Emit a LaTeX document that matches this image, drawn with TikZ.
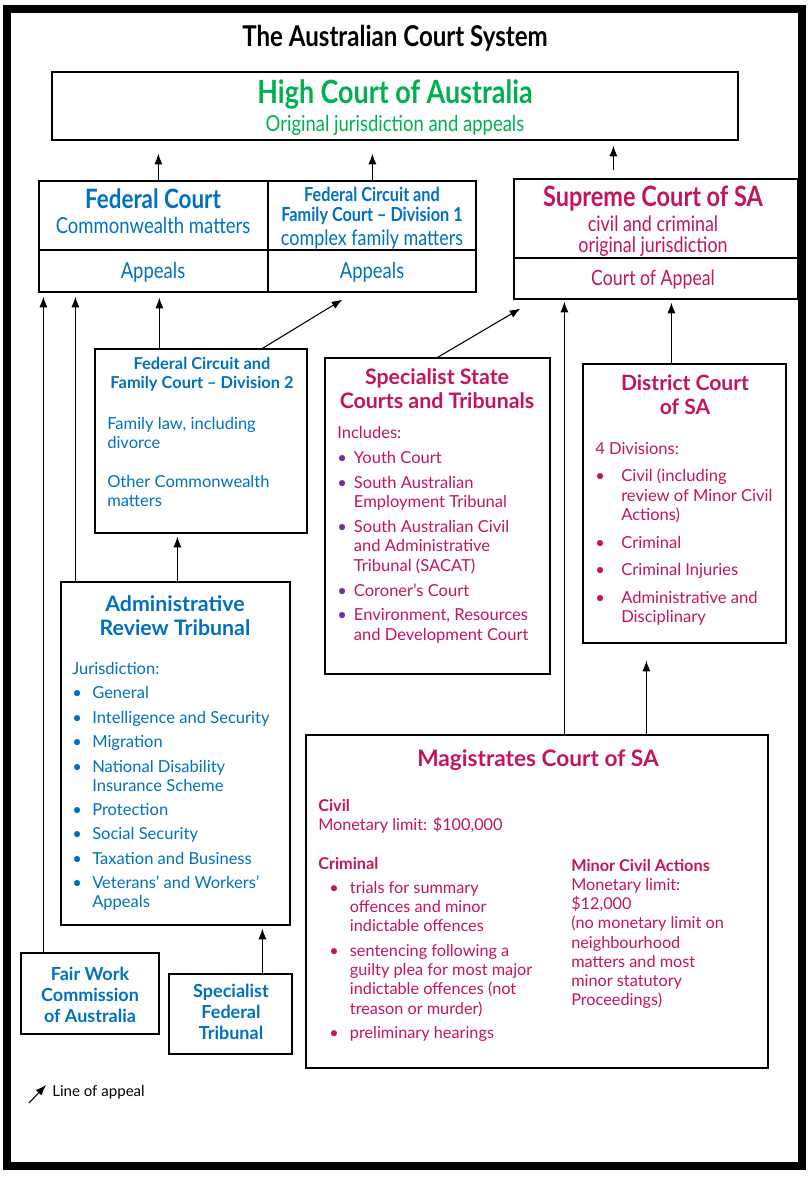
\documentclass[tikz,border=0pt]{standalone}
\usepackage{fontspec}
\setmainfont{Lato}
\newfontfamily\condfont[FakeStretch=0.84,Ligatures=TeX]{Lato}
\usetikzlibrary{fit,calc,arrows.meta}

\definecolor{fedblue}{RGB}{0,112,192}
\definecolor{sared}{RGB}{195,20,95}
\definecolor{hcgreen}{RGB}{0,176,80}
\definecolor{bulpurple}{RGB}{112,48,160}

\newcommand{\fs}[2]{\fontsize{#1}{#2}\selectfont}
\newcommand{\bl}[2]{\makebox[#1][l]{\textcolor{#2}{\textbullet}}}
\newcommand{\ind}[1]{\hspace*{#1}}

\tikzset{
	box/.style={draw, line width=0.9pt, inner sep=0pt},
	appeal/.style={-{Latex[length=8pt,width=6pt]}, line width=0.8pt},
	txt/.style={inner sep=0pt},
	lefttxt/.style={inner sep=0pt, anchor=north west, align=left},
	midtxt/.style={inner sep=0pt, align=center},
}

\begin{document}
\begin{tikzpicture}[x=0.75pt, y=-0.75pt]
	\useasboundingbox (0,0) rectangle (811,1177);
	% frame
	\draw[line width=5.5pt] (7,9) rectangle (802,1166);
	\node[txt, font=\condfont\bfseries\fs{21.5}{24}] (title) at (395,38) {The Australian Court System};
	
	% High Court
	\node[box, fit={(52,72) (738,140)}] (hc) {};
	\node[txt, text=hcgreen, font=\condfont\bfseries\fs{24}{26}] (hcname) at (395,95) {High Court of Australia};
	\node[txt, text=hcgreen, font=\condfont\fs{16.5}{18}] (hcsub) at (395,125) {Original jurisdiction and appeals};
	
	% Federal courts
	\node[box, fit={(39,181) (268,250)}] (fc) {};
	\node[box, fit={(39,250) (268,292)}] (fcapp) {};
	\node[box, fit={(268,181) (476,250)}] (fc1) {};
	\node[box, fit={(268,250) (476,292)}] (fc1app) {};
	\node[txt, text=fedblue, font=\condfont\bfseries\fs{20}{22}] (fcname) at (153,199) {Federal Court};
	\node[txt, text=fedblue, font=\condfont\fs{16.5}{18}] (fcsub) at (153,225) {Commonwealth matters};
	\node[midtxt, text=fedblue, font=\condfont\bfseries\fs{14.5}{15}] (fc1name) at (372,206) {Federal Circuit and\\Family Court – Division 1};
	\node[txt, text=fedblue, font=\condfont\fs{16}{18}] (fc1sub) at (372,239) {complex family matters};
	\node[txt, text=fedblue, font=\condfont\fs{16.5}{18}] (fcapptxt) at (153,272) {Appeals};
	\node[txt, text=fedblue, font=\condfont\fs{16.5}{18}] (fc1apptxt) at (372,272) {Appeals};
	
	% Supreme Court
	\node[box, fit={(514,179) (798,258)}] (sc) {};
	\node[box, fit={(514,258) (798,299)}] (scapp) {};
	\node[txt, text=sared, font=\condfont\bfseries\fs{21}{23}] (scname) at (653,199) {Supreme Court of SA};
	\node[midtxt, text=sared, font=\condfont\fs{16}{16}] (scsub) at (653,236) {civil and criminal\\original jurisdiction};
	\node[txt, text=sared, font=\condfont\fs{15.8}{18}] (scapptxt) at (653,280) {Court of Appeal};
	
	% Federal Circuit and Family Court - Division 2
	\node[box, fit={(95,349) (307,533)}] (div2) {};
	\node[midtxt, text=fedblue, font=\bfseries\fs{12.3}{14.3}] (div2name) at (202,374.5) {Federal Circuit and\\Family Court – Division 2};
	\node[lefttxt, text=fedblue, font=\fs{12.4}{14.4}] (div2body) at (107,417) {Family law, including\\divorce\\[14.4pt]Other Commonwealth\\matters};
	
	% Specialist State Courts and Tribunals
	\node[box, fit={(325,358) (550,674)}] (sst) {};
	\node[midtxt, text=sared, font=\bfseries\fs{16}{18}] (sstname) at (437,389) {Specialist State\\Courts and Tribunals};
	\node[lefttxt, text=sared, font=\fs{12.4}{14.6}] (sstlist) at (337,426) {Includes:\\[4pt]
		\bl{12.5pt}{bulpurple}Youth Court\\[4pt]
		\bl{12.5pt}{bulpurple}South Australian\\\ind{12.5pt}Employment Tribunal\\[4pt]
		\bl{12.5pt}{bulpurple}South Australian Civil\\\ind{12.5pt}and Administrative\\\ind{12.5pt}Tribunal (SACAT)\\[4pt]
		\bl{12.5pt}{bulpurple}Coroner’s Court\\[4pt]
		\bl{12.5pt}{bulpurple}Environment, Resources\\\ind{12.5pt}and Development Court};
	
	% District Court
	\node[box, fit={(583,364) (786,643)}] (dc) {};
	\node[midtxt, text=sared, font=\bfseries\fs{15.8}{18}] (dcname) at (685,395) {District Court\\of SA};
	\node[lefttxt, text=sared, font=\fs{12.4}{14.6}] (dclist) at (595,442) {4 Divisions:\\[6pt]
		\bl{19.5pt}{sared}Civil (including\\\ind{19.5pt}review of Minor Civil\\\ind{19.5pt}Actions)\\[6pt]
		\bl{19.5pt}{sared}Criminal\\[6pt]
		\bl{19.5pt}{sared}Criminal Injuries\\[6pt]
		\bl{19.5pt}{sared}Administrative and\\\ind{19.5pt}Disciplinary};
	
	% Administrative Review Tribunal
	\node[box, fit={(61,582) (290,925)}] (art) {};
	\node[midtxt, text=fedblue, font=\bfseries\fs{16}{18.5}] (artname) at (175,615.5) {Administrative\\Review Tribunal};
	\node[lefttxt, text=fedblue, font=\fs{12.4}{14.3}] (artlist) at (72,662) {Jurisdiction:\\[4pt]
		\bl{15pt}{fedblue}General\\[4pt]
		\bl{15pt}{fedblue}Intelligence and Security\\[4pt]
		\bl{15pt}{fedblue}Migration\\[4pt]
		\bl{15pt}{fedblue}National Disability\\\ind{15pt}Insurance Scheme\\[4pt]
		\bl{15pt}{fedblue}Protection\\[4pt]
		\bl{15pt}{fedblue}Social Security\\[4pt]
		\bl{15pt}{fedblue}Taxation and Business\\[4pt]
		\bl{15pt}{fedblue}Veterans’ and Workers’\\\ind{15pt}Appeals};
	
	% Fair Work and Specialist Federal Tribunal
	\node[box, fit={(21,953) (159,1034)}] (fw) {};
	\node[midtxt, text=fedblue, font=\bfseries\fs{13.5}{15.75}] (fwname) at (90,995) {Fair Work\\Commission\\of Australia};
	\node[box, fit={(169,974) (292,1054)}] (sft) {};
	\node[midtxt, text=fedblue, font=\bfseries\fs{13.5}{15.75}] (sftname) at (231,1012) {Specialist\\Federal\\Tribunal};
	
	% Magistrates Court
	\node[box, fit={(306,735) (768,1068)}] (mc) {};
	\node[txt, text=sared, font=\bfseries\fs{17}{19}] (mcname) at (538,760) {Magistrates Court of SA};
	\node[lefttxt, text=sared, font=\fs{12.2}{14.3}] (mccivil) at (318,799) {\textbf{Civil}\\Monetary limit: \$100,000\\[15pt]\textbf{Criminal}};
	\node[lefttxt, text=sared, font=\fs{12.2}{14.5}] (mccrim) at (329,881) {\bl{15.5pt}{sared}trials for summary\\\ind{15.5pt}offences and minor\\\ind{15.5pt}indictable offences\\[3.75pt]
		\bl{15.5pt}{sared}sentencing following a\\\ind{15.5pt}guilty plea for most major\\\ind{15.5pt}indictable offences (not\\\ind{15.5pt}treason or murder)\\[3.75pt]
		\bl{15.5pt}{sared}preliminary hearings};
	\node[lefttxt, text=sared, font=\fs{12.2}{14.4}] (mcminor) at (571,859) {\textbf{Minor Civil Actions}\\Monetary limit:\\\$12,000\\(no monetary limit on\\neighbourhood\\matters and most\\minor statutory\\Proceedings)};
	
	% lines of appeal
	\draw[appeal] ($(fc.north west)+(120,0)$) -- ($(hc.south west)+(107,13)$);
	\draw[appeal] ($(fc1.north west)+(105,0)$) -- ($(hc.south west)+(321,13)$);
	\draw[appeal] ($(sc.north west)+(100,-8)$) -- ($(hc.south west)+(562,5)$);
	\draw[appeal] ($(div2.north west)+(65,0)$) -- ($(fcapp.south west)+(121,5)$);
	\draw[appeal] ($(div2.north west)+(168,0)$) -- ($(fc1app.south west)+(75,7)$);
	\draw[appeal] (sst.north) -- ($(scapp.south west)+(7,9)$);
	\draw[appeal] ($(dc.north west)+(89,0)$) -- ($(scapp.south west)+(158,3)$);
	\draw[appeal] ($(art.north west)+(117,0)$) -- ($(div2.south west)+(83,3)$);
	\draw[appeal] ($(art.north west)+(15,0)$) -- ($(fcapp.south west)+(37,4)$);
	\draw[appeal] ($(fw.north west)+(23,0)$) -- ($(fcapp.south west)+(5,4)$);
	\draw[appeal] ($(sft.north west)+(94,0)$) -- ($(art.south west)+(202,3)$);
	\draw[appeal] ($(mc.north west)+(341,0)$) -- ($(dc.south west)+(64,17)$);
	\draw[appeal] ($(mc.north west)+(259,0)$) -- ($(scapp.south west)+(51,2)$);
	
	% legend
	\coordinate (lgfrom) at (29,1103);
	\coordinate (lgto) at (46,1085);
	\draw[appeal] (lgfrom) -- (lgto);
	\node[txt, anchor=west, font=\fs{11.3}{13}] (lgtxt) at (52,1092) {Line of appeal};
\end{tikzpicture}
\end{document}
